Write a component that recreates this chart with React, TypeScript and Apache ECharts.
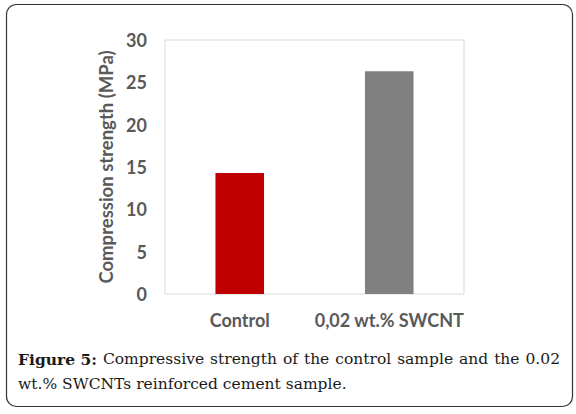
import React, { useEffect, useRef } from "react";
import * as echarts from "echarts";

const categories = ["Control", "0,02 wt.% SWCNT"];
const strengthValues = [14.3, 26.3];
const barColors = ["#C00000", "#808080"];
const yTicks = { min: 0, max: 30, interval: 5 };
const axisTitle = "Compression strength (MPa)";
const captionBold = "Figure 5:";
const captionLine1Words = ["Compressive", "strength", "of", "the", "control", "sample", "and", "the", "0.02"];
const captionLine2 = "wt.% SWCNTs reinforced cement sample.";

const W = 576;
const H = 414;
const CAP_FONT = "DejaVu Serif";
const CAP_SIZE = 15.5;
const AX_FONT = "Lato";
const AX_SIZE = 18;

function measure(text: string, font: string): number {
  const c = document.createElement("canvas").getContext("2d");
  if (!c) return text.length * 8;
  c.font = font;
  return c.measureText(text).width;
}

export default function App() {
  const ref = useRef<HTMLDivElement>(null);
  useEffect(() => {
    if (!ref.current) return;
    const chart = echarts.init(ref.current, null, { renderer: "svg", width: W, height: H });

    // justified caption line 1
    const x0 = 18;
    const x1 = 560;
    const boldFont = `bold ${CAP_SIZE}px "${CAP_FONT}"`;
    const normFont = `${CAP_SIZE}px "${CAP_FONT}"`;
    const words = [captionBold, ...captionLine1Words];
    const widths = words.map((w, i) => measure(w, i === 0 ? boldFont : normFont));
    const total = widths.reduce((a, b) => a + b, 0);
    const gap = (x1 - x0 - total) / (words.length - 1);
    let cx = x0;
    const wordEls: any[] = words.map((w, i) => {
      const el = {
        type: "text",
        x: cx,
        y: 359,
        style: {
          text: w,
          fontFamily: CAP_FONT,
          fontSize: CAP_SIZE,
          fontWeight: i === 0 ? "bold" : "normal",
          fill: "#1a1a1a",
          verticalAlign: "middle",
          align: "left",
        },
      };
      cx += widths[i] + gap;
      return el;
    });

    chart.setOption({
      animation: false,
      backgroundColor: "#ffffff",
      grid: {
        left: 165,
        top: 40,
        right: W - 464,
        bottom: H - 294,
        show: true,
        borderColor: "#d9d9d9",
        borderWidth: 1,
      },
      xAxis: {
        type: "category",
        data: categories,
        axisLine: { show: false },
        axisTick: { show: false },
        axisLabel: {
          interval: 0,
          color: "#595959",
          fontFamily: AX_FONT,
          fontWeight: "bold",
          fontSize: AX_SIZE,
          margin: 17,
        },
      },
      yAxis: {
        type: "value",
        min: yTicks.min,
        max: yTicks.max,
        interval: yTicks.interval,
        axisLine: { show: false },
        axisTick: { show: false },
        splitLine: { show: false },
        axisLabel: {
          color: "#595959",
          fontFamily: AX_FONT,
          fontWeight: "bold",
          fontSize: AX_SIZE,
          margin: 18,
        },
        name: axisTitle,
        nameLocation: "middle",
        nameGap: 43,
        nameTextStyle: {
          color: "#595959",
          fontFamily: AX_FONT,
          fontWeight: "bold",
          fontSize: 18.5,
        },
      },
      series: [
        {
          type: "bar",
          data: strengthValues.map((v, i) => ({ value: v, itemStyle: { color: barColors[i] } })),
          barWidth: "32.5%",
        },
      ],
      graphic: [
        {
          type: "rect",
          shape: { x: 6.5, y: 4.5, width: 566, height: 402, r: 10 },
          style: { fill: "none", stroke: "#333333", lineWidth: 1.2 },
          silent: true,
        },
        ...wordEls,
        {
          type: "text",
          x: x0,
          y: 384,
          style: {
            text: captionLine2,
            fontFamily: CAP_FONT,
            fontSize: CAP_SIZE,
            fill: "#1a1a1a",
            verticalAlign: "middle",
            align: "left",
          },
        },
      ],
    });
    return () => chart.dispose();
  }, []);
  return (
    <div
      ref={ref}
      style={{ position: "fixed", left: 0, top: 0, width: W, height: H, background: "#fff" }}
    />
  );
}
